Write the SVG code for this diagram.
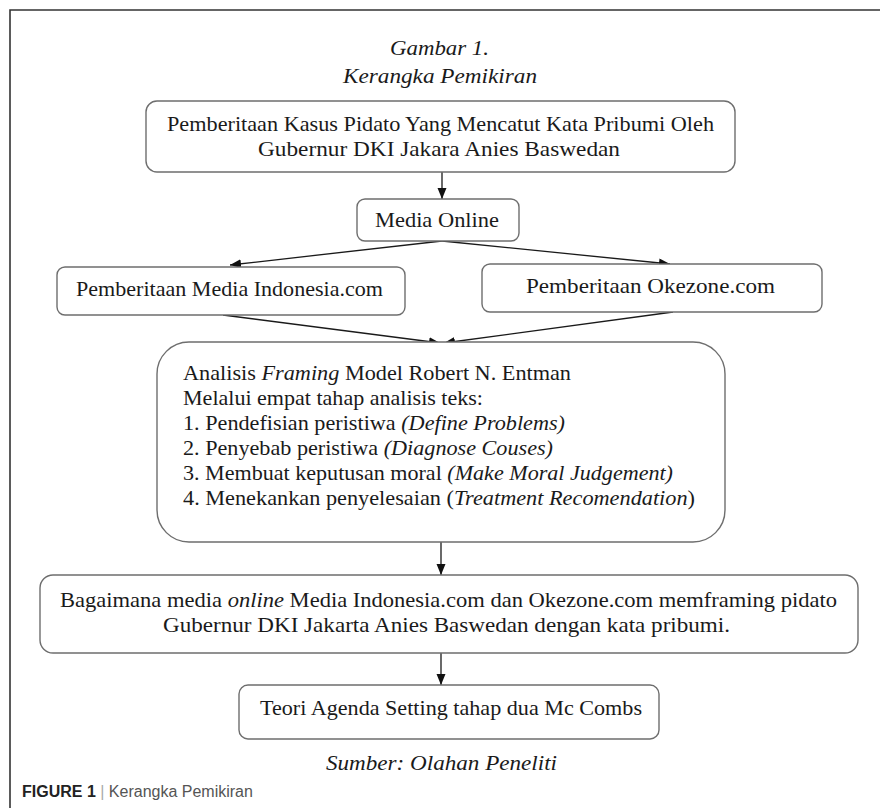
<svg xmlns="http://www.w3.org/2000/svg" width="880" height="808" viewBox="0 0 880 808">
<defs>
<marker id="ah" markerUnits="userSpaceOnUse" markerWidth="12" markerHeight="10" refX="11" refY="4.5" orient="auto">
<path d="M0,0 L11,4.5 L0,9 z" fill="#111"/>
</marker>
<style>
.box{fill:#fff;stroke:#6e6e6e;stroke-width:1.4}
.t{font-family:"Liberation Serif","Times New Roman",serif;font-size:21px;fill:#1a1a1a}
.i{font-style:italic}
.c{stroke:#1a1a1a;stroke-width:1.3;fill:none;marker-end:url(#ah)}
.cap{font-family:"Liberation Sans",Arial,sans-serif;font-size:16px}
</style>
</defs>
<rect width="880" height="808" fill="#fff"/>
<path d="M10,808 L10,10 L880,10" fill="none" stroke="#333" stroke-width="1.6"/>

<g id="title">
<text class="t i" x="439.5" y="55" text-anchor="middle" textLength="99" lengthAdjust="spacingAndGlyphs">Gambar 1.</text>
<text class="t i" x="440" y="83" text-anchor="middle" textLength="194" lengthAdjust="spacingAndGlyphs">Kerangka Pemikiran</text>
</g>

<g id="connectors">
<line class="c" x1="442" y1="172" x2="442" y2="199"/>
<line class="c" x1="442" y1="241" x2="230" y2="265"/>
<line class="c" x1="442" y1="241" x2="670" y2="264"/>
<line class="c" x1="223" y1="315" x2="440" y2="343"/>
<line class="c" x1="673" y1="312" x2="444" y2="343"/>
<line class="c" x1="441" y1="542" x2="441" y2="575"/>
<line class="c" x1="441" y1="653" x2="441" y2="685"/>
</g>

<g id="node-pemberitaan-kasus">
<rect class="box" x="146" y="101" width="589" height="71" rx="11"/>
<text class="t" x="440.5" y="131" text-anchor="middle" textLength="547" lengthAdjust="spacingAndGlyphs">Pemberitaan Kasus Pidato Yang Mencatut Kata Pribumi Oleh</text>
<text class="t" x="439" y="156" text-anchor="middle" textLength="362" lengthAdjust="spacingAndGlyphs">Gubernur DKI Jakara Anies Baswedan</text>
</g>

<g id="node-media-online">
<rect class="box" x="357" y="199" width="162" height="42" rx="8"/>
<text class="t" x="437" y="227" text-anchor="middle" textLength="124" lengthAdjust="spacingAndGlyphs">Media Online</text>
</g>

<g id="node-media-indonesia">
<rect class="box" x="57" y="267" width="348" height="48" rx="8"/>
<text class="t" x="229.5" y="296" text-anchor="middle" textLength="307" lengthAdjust="spacingAndGlyphs">Pemberitaan Media Indonesia.com</text>
</g>

<g id="node-okezone">
<rect class="box" x="482" y="264" width="340" height="48" rx="8"/>
<text class="t" x="650.5" y="293" text-anchor="middle" textLength="249" lengthAdjust="spacingAndGlyphs">Pemberitaan Okezone.com</text>
</g>

<g id="node-analisis">
<rect class="box" x="157" y="342" width="568" height="200" rx="32"/>
<text class="t" x="183" y="380" textLength="388" lengthAdjust="spacingAndGlyphs">Analisis <tspan class="i">Framing</tspan> Model Robert N. Entman</text>
<text class="t" x="183" y="405" textLength="300" lengthAdjust="spacingAndGlyphs">Melalui empat tahap analisis teks:</text>
<text class="t" x="183" y="430" textLength="382" lengthAdjust="spacingAndGlyphs">1. Pendefisian peristiwa <tspan class="i">(Define Problems)</tspan></text>
<text class="t" x="183" y="455" textLength="370" lengthAdjust="spacingAndGlyphs">2. Penyebab peristiwa <tspan class="i">(Diagnose Couses)</tspan></text>
<text class="t" x="183" y="480" textLength="490" lengthAdjust="spacingAndGlyphs">3. Membuat keputusan moral <tspan class="i">(Make Moral Judgement)</tspan></text>
<text class="t" x="183" y="505" textLength="512" lengthAdjust="spacingAndGlyphs">4. Menekankan penyelesaian (<tspan class="i">Treatment Recomendation</tspan>)</text>
</g>

<g id="node-bagaimana">
<rect class="box" x="40" y="575" width="818" height="78" rx="13"/>
<text class="t" x="448.5" y="607" text-anchor="middle" textLength="777" lengthAdjust="spacingAndGlyphs">Bagaimana media <tspan class="i">online</tspan> Media Indonesia.com dan Okezone.com memframing pidato</text>
<text class="t" x="446.5" y="632" text-anchor="middle" textLength="567" lengthAdjust="spacingAndGlyphs">Gubernur DKI Jakarta Anies Baswedan dengan kata pribumi.</text>
</g>

<g id="node-teori">
<rect class="box" x="239" y="685" width="420" height="54" rx="9"/>
<text class="t" x="451" y="715" text-anchor="middle" textLength="382" lengthAdjust="spacingAndGlyphs">Teori Agenda Setting tahap dua Mc Combs</text>
</g>

<g id="source">
<text class="t i" x="441.5" y="770" text-anchor="middle" textLength="231" lengthAdjust="spacingAndGlyphs">Sumber: Olahan Peneliti</text>
</g>

<g id="caption">
<text class="cap" x="22" y="797"><tspan font-weight="bold" fill="#222">FIGURE 1</tspan><tspan fill="#aaa"> | </tspan><tspan fill="#555">Kerangka Pemikiran</tspan></text>
</g>
</svg>
